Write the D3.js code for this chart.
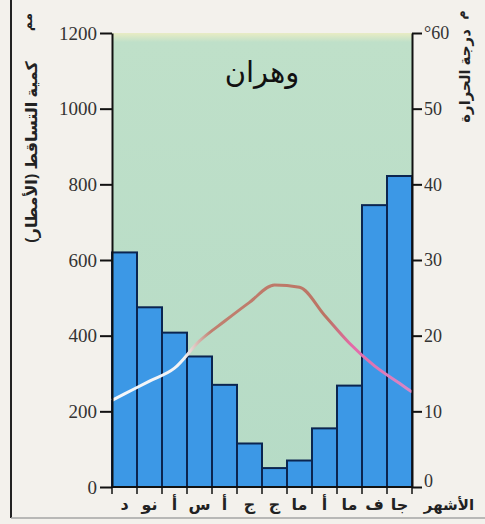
<!DOCTYPE html>
<html>
<head>
<meta charset="utf-8">
<script src="https://cdn.jsdelivr.net/npm/d3@7"></script>
<style>
  html, body { margin: 0; padding: 0; background: #f3f1ec; }
  svg { display: block; }
</style>
</head>
<body>
<svg id="chart" width="485" height="524"></svg>
<script>
// ---- data (months ordered as drawn, left to right) ----
const monthKeys   = ["dec","nov","oct","sep","aug","jul","jun","may","apr","mar","feb","jan"];
const monthLabels = ["د","نو","أ","س","أ","ج","ج","ما","أ","ما","ف","جا"];
const precipitation = [620, 475, 408, 345, 270, 115, 50, 70, 155, 268, 745, 822]; // mm
const temperature   = [12.3, 14.0, 15.7, 19.3, 21.9, 24.4, 26.7, 26.4, 22.7, 19.0, 16.0, 13.7]; // °C
const precipTicks = [0, 200, 400, 600, 800, 1000, 1200];
const tempTicks   = [0, 10, 20, 30, 40, 50, 60];
const titleText = "وهران";
const leftTitle = "كمية التساقط (الأمطار)";
const rightTitle = "درجة الحرارة";
const leftUnit = "مم";
const rightUnit = "م";
const monthsWord = "الأشهر";

const svg = d3.select("#chart");
const L = 112, R = 412, T = 33, B = 487;

const x = d3.scaleBand().domain(monthKeys).range([L, R]).padding(0);
const y = d3.scaleLinear().domain([0, 1200]).range([B, T]);
const yT = d3.scaleLinear().domain([0, 60]).range([B, T]);

const arabicFont = "'Noto Sans', 'DejaVu Sans', sans-serif";
const fontTicks = "'Liberation Serif', 'DejaVu Serif', serif";

// frame line on left and faint bottom line
svg.append("line").attr("x1", 11).attr("x2", 11).attr("y1", 0).attr("y2", 518)
  .attr("stroke", "#222").attr("stroke-width", 2);
svg.append("line").attr("x1", 11).attr("x2", 485).attr("y1", 518).attr("y2", 518)
  .attr("stroke", "#a5a5a5").attr("stroke-width", 1.5);

// plot background
const defs = svg.append("defs");
const bg = defs.append("linearGradient").attr("id", "bg").attr("x1", 0).attr("y1", 0).attr("x2", 0).attr("y2", 1);
bg.append("stop").attr("offset", "0").attr("stop-color", "#e9ecc4");
bg.append("stop").attr("offset", "0.02").attr("stop-color", "#bfe0c9");
bg.append("stop").attr("offset", "1").attr("stop-color", "#b6dbc6");
svg.append("rect").attr("x", L).attr("y", T).attr("width", R - L).attr("height", B - T)
  .attr("fill", "url(#bg)");

// title
svg.append("text").attr("x", 262).attr("y", 82).attr("text-anchor", "middle")
  .attr("font-family", arabicFont).attr("font-size", 29)
  .attr("fill", "#111").text(titleText);

// bars
svg.append("g").selectAll("rect").data(precipitation).join("rect")
  .attr("x", (d, i) => x(monthKeys[i]))
  .attr("y", d => y(d))
  .attr("width", x.bandwidth())
  .attr("height", d => B - y(d))
  .attr("fill", "#3c98e6")
  .attr("stroke", "#0b2550")
  .attr("stroke-width", 2);

// temperature line
const pts = temperature.map((t, i) => [x(monthKeys[i]) + x.bandwidth() / 2, yT(t)]);
const n = pts.length;
const s0 = (pts[1][1] - pts[0][1]) / (pts[1][0] - pts[0][0]);
const s1 = (pts[n-1][1] - pts[n-2][1]) / (pts[n-1][0] - pts[n-2][0]);
const full = [[L, pts[0][1] - s0 * (pts[0][0] - L)], ...pts, [R, pts[n-1][1] + s1 * (R - pts[n-1][0])]];
const lg = defs.append("linearGradient").attr("id", "tline").attr("gradientUnits", "userSpaceOnUse")
  .attr("x1", L).attr("y1", 0).attr("x2", R).attr("y2", 0);
[["0", "#f6f8fb"], ["0.24", "#f2f2f4"], ["0.33", "#c08070"], ["0.72", "#bc7464"], ["0.8", "#e46aa8"], ["1", "#d888c8"]]
  .forEach(([o, c]) => lg.append("stop").attr("offset", o).attr("stop-color", c));
svg.append("path")
  .attr("d", d3.line().curve(d3.curveMonotoneX)(full))
  .attr("fill", "none").attr("stroke", "url(#tline)").attr("stroke-width", 3);

// left axis
const gl = svg.append("g").attr("transform", `translate(${L},0)`)
  .call(d3.axisLeft(y).tickValues(precipTicks).tickSize(12).tickPadding(3).tickSizeOuter(0)
    .tickFormat(d3.format("d")));
gl.select(".domain").attr("stroke", "#111").attr("stroke-width", 2);
gl.selectAll(".tick line").attr("stroke", "#111").attr("stroke-width", 2);
gl.selectAll(".tick text").attr("font-family", fontTicks).attr("font-size", 19).attr("fill", "#333");

// right axis
const gr = svg.append("g").attr("transform", `translate(${R},0)`)
  .call(d3.axisRight(yT).tickValues(tempTicks).tickSize(10).tickPadding(2).tickSizeOuter(0)
    .tickFormat(d => d === 60 ? "°60" : d));
gr.select(".domain").attr("stroke", "#111").attr("stroke-width", 2);
gr.selectAll(".tick line").attr("stroke", "#111").attr("stroke-width", 2);
gr.selectAll(".tick text").attr("font-family", fontTicks).attr("font-size", 18).attr("fill", "#333");
gr.selectAll(".tick text").filter(d => d === 0).attr("dy", "-0.05em");

// bottom baseline and month tick marks
svg.append("line").attr("x1", L).attr("x2", R).attr("y1", B).attr("y2", B)
  .attr("stroke", "#111").attr("stroke-width", 2);
const edges = monthKeys.map(k => x(k)).concat([R]);
svg.append("g").selectAll("line").data(edges).join("line")
  .attr("x1", d => d).attr("x2", d => d).attr("y1", B).attr("y2", B + 7)
  .attr("stroke", "#111").attr("stroke-width", 1.5);

// month labels
svg.append("g").selectAll("text").data(monthLabels).join("text")
  .attr("x", (d, i) => x(monthKeys[i]) + x.bandwidth() / 2)
  .attr("y", 510).attr("text-anchor", "middle")
  .attr("font-family", arabicFont).attr("font-size", 16)
  .attr("font-weight", "bold").attr("fill", "#222").text(d => d);
svg.append("text").attr("x", 449).attr("y", 510).attr("text-anchor", "middle")
  .attr("font-family", arabicFont).attr("font-size", 15)
  .attr("font-weight", "bold").attr("fill", "#222").text(monthsWord);

// axis titles
svg.append("text").attr("transform", "translate(37,152) rotate(-90)").attr("text-anchor", "middle")
  .attr("font-family", arabicFont).attr("font-size", 16)
  .attr("font-weight", "bold").attr("fill", "#222").text(leftTitle);
svg.append("text").attr("transform", "translate(32,22) rotate(-90)").attr("text-anchor", "middle")
  .attr("font-family", arabicFont).attr("font-size", 13)
  .attr("font-weight", "bold").attr("fill", "#222").text(leftUnit);
svg.append("text").attr("transform", "translate(470,76) rotate(-90)").attr("text-anchor", "middle")
  .attr("font-family", arabicFont).attr("font-size", 15)
  .attr("font-weight", "bold").attr("fill", "#222").text(rightTitle);
svg.append("text").attr("transform", "translate(465,15) rotate(-90)").attr("text-anchor", "middle")
  .attr("font-family", arabicFont).attr("font-size", 13)
  .attr("font-weight", "bold").attr("fill", "#222").text(rightUnit);
</script>
</body>
</html>
